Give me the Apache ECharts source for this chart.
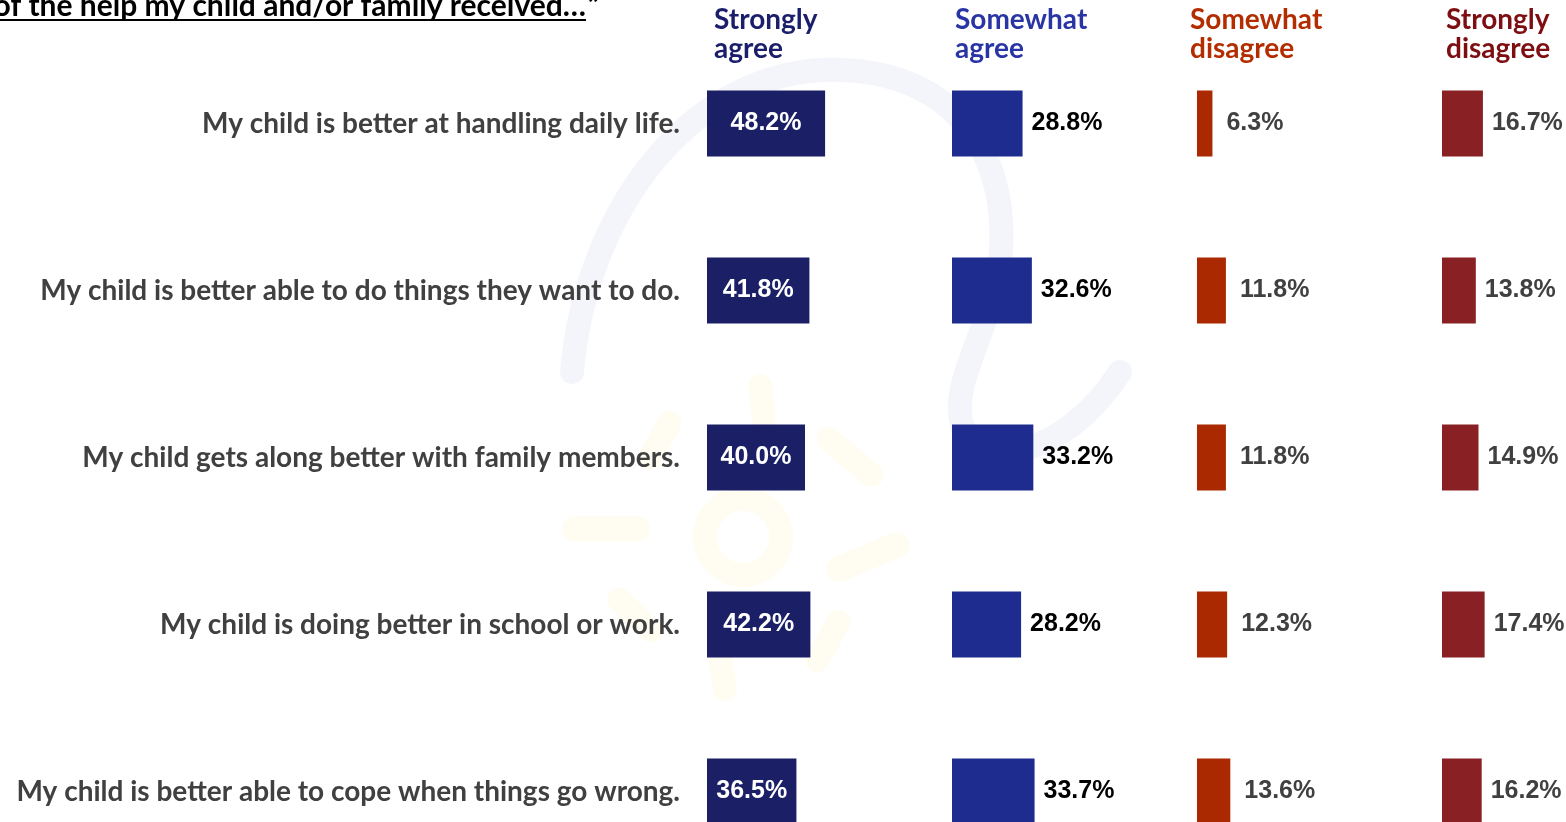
<!DOCTYPE html>
<html><head><meta charset="utf-8">
<script src="https://cdn.jsdelivr.net/npm/echarts@6/dist/echarts.min.js"></script>
<style>html,body{margin:0;padding:0;background:#fff}#c{width:1566px;height:822px}</style>
</head><body><div id="c"></div>
<script>
const categories = [
  'My child is better at handling daily life.',
  'My child is better able to do things they want to do.',
  'My child gets along better with family members.',
  'My child is doing better in school or work.',
  'My child is better able to cope when things go wrong.'
];
const stronglyAgree = [48.2, 41.8, 40.0, 42.2, 36.5];
const somewhatAgree = [28.8, 32.6, 33.2, 28.2, 33.7];
const somewhatDisagree = [6.3, 11.8, 11.8, 12.3, 13.6];
const stronglyDisagree = [16.7, 13.8, 14.9, 17.4, 16.2];
const columnHeaders = ['Strongly\nagree', 'Somewhat\nagree', 'Somewhat\ndisagree', 'Strongly\ndisagree'];
const titleText = 'of the help my child and/or family received\u2026';

const seriesData = [stronglyAgree, somewhatAgree, somewhatDisagree, stronglyDisagree];
const barColors = ['#1a1f66', '#1f2c8f', '#ab2900', '#882024'];
const headerColors = ['#1b1f6b', '#2a35a5', '#b32d00', '#7d0f12'];
const labelColors = ['#ffffff', '#000000', '#404040', '#404040'];
const labelDist = [0, 9, 14, 9];
const headerLeft = [714, 955, 1190, 1446];
const labelFont = '"Liberation Sans Narrow","Arial Narrow","Liberation Sans",Arial,sans-serif';
const textFont = 'Lato,"Open Sans","Noto Sans",sans-serif';

const chart = echarts.init(document.getElementById('c'), null, {renderer: 'canvas'});

const grids = [], xAxes = [], yAxes = [], series = [], titles = [];
for (let i = 0; i < 4; i++) {
  grids.push({left: 707 + 245 * i, width: 245, top: 40, height: 835,
              containLabel: false, outerBoundsMode: 'none'});
  xAxes.push({type: 'value', gridIndex: i, min: 0, max: 100, show: false});
  yAxes.push({
    type: 'category', gridIndex: i, inverse: true, data: categories,
    axisLine: {show: false}, axisTick: {show: false}, splitLine: {show: false},
    axisLabel: {
      show: i === 0, margin: 27, fontFamily: textFont, fontWeight: 'bold',
      fontSize: 28, color: '#404040'
    }
  });
  series.push({
    type: 'bar', xAxisIndex: i, yAxisIndex: i, data: seriesData[i], barWidth: 66,
    itemStyle: {color: barColors[i]},
    label: {
      show: true,
      position: i === 0 ? 'inside' : 'right',
      distance: labelDist[i],
      formatter: p => p.value.toFixed(1) + '%',
      fontFamily: labelFont, fontWeight: 'bold', fontSize: 25, color: labelColors[i]
    }
  });
  titles.push({
    text: columnHeaders[i], left: headerLeft[i], top: 5, padding: 0,
    textStyle: {fontFamily: textFont, fontWeight: 'bold', fontSize: 28, lineHeight: 29, color: headerColors[i]}
  });
}

function ray(cx, cy, rx, ry, rot) {
  return {type: 'rect', silent: true, z: -10,
    shape: {x: cx - rx, y: cy - ry, width: 2 * rx, height: 2 * ry, r: Math.min(rx, ry)},
    rotation: rot || 0, originX: cx, originY: cy, style: {fill: '#fffdf2'}};
}
function swirl(x1, y1, c1x, c1y, c2x, c2y, x2, y2) {
  return {type: 'bezierCurve', silent: true, z: -10,
    shape: {x1: x1, y1: y1, cpx1: c1x, cpy1: c1y, cpx2: c2x, cpy2: c2y, x2: x2, y2: y2},
    style: {fill: null, stroke: '#f4f5fa', lineWidth: 24, lineCap: 'round'}};
}

chart.setOption({
  backgroundColor: '#ffffff',
  animation: false,
  title: titles,
  grid: grids,
  xAxis: xAxes,
  yAxis: yAxes,
  series: series,
  graphic: [
    swirl(572, 372, 585, 220, 680, 80, 820, 70),
    swirl(820, 70, 950, 64, 1012, 150, 1000, 262),
    swirl(1000, 262, 990, 332, 950, 382, 962, 425),
    swirl(962, 425, 975, 470, 1062, 462, 1120, 372),
    {type: 'circle', silent: true, z: -10, shape: {cx: 743, cy: 537, r: 38},
     style: {fill: null, stroke: '#fffdf2', lineWidth: 24}},
    ray(606, 529, 44, 13, 0),
    ray(762, 402, 12, 28, 0.1),
    ray(660, 440, 12, 32, -0.5),
    ray(850, 457, 40, 12, -0.7),
    ray(868, 557, 44, 13, 0.4),
    ray(828, 641, 12, 34, -0.5),
    ray(723, 675, 12, 26, 0.15),
    ray(635, 615, 12, 34, 0.8),
    {type: 'text', silent: true, z: 5,
     style: {text: titleText, x: 586, y: 6, align: 'right', verticalAlign: 'middle',
             font: 'bold 30px ' + textFont, fill: '#000000'}},
    {type: 'text', silent: true, z: 5,
     style: {text: '\u201d', x: 588, y: 6, align: 'left', verticalAlign: 'middle',
             font: 'bold 30px ' + textFont, fill: '#000000'}},
    {type: 'line', silent: true, z: 5, shape: {x1: 0, y1: 20, x2: 586, y2: 20},
     style: {stroke: '#000000', lineWidth: 2}}
  ]
});
</script></body></html>
